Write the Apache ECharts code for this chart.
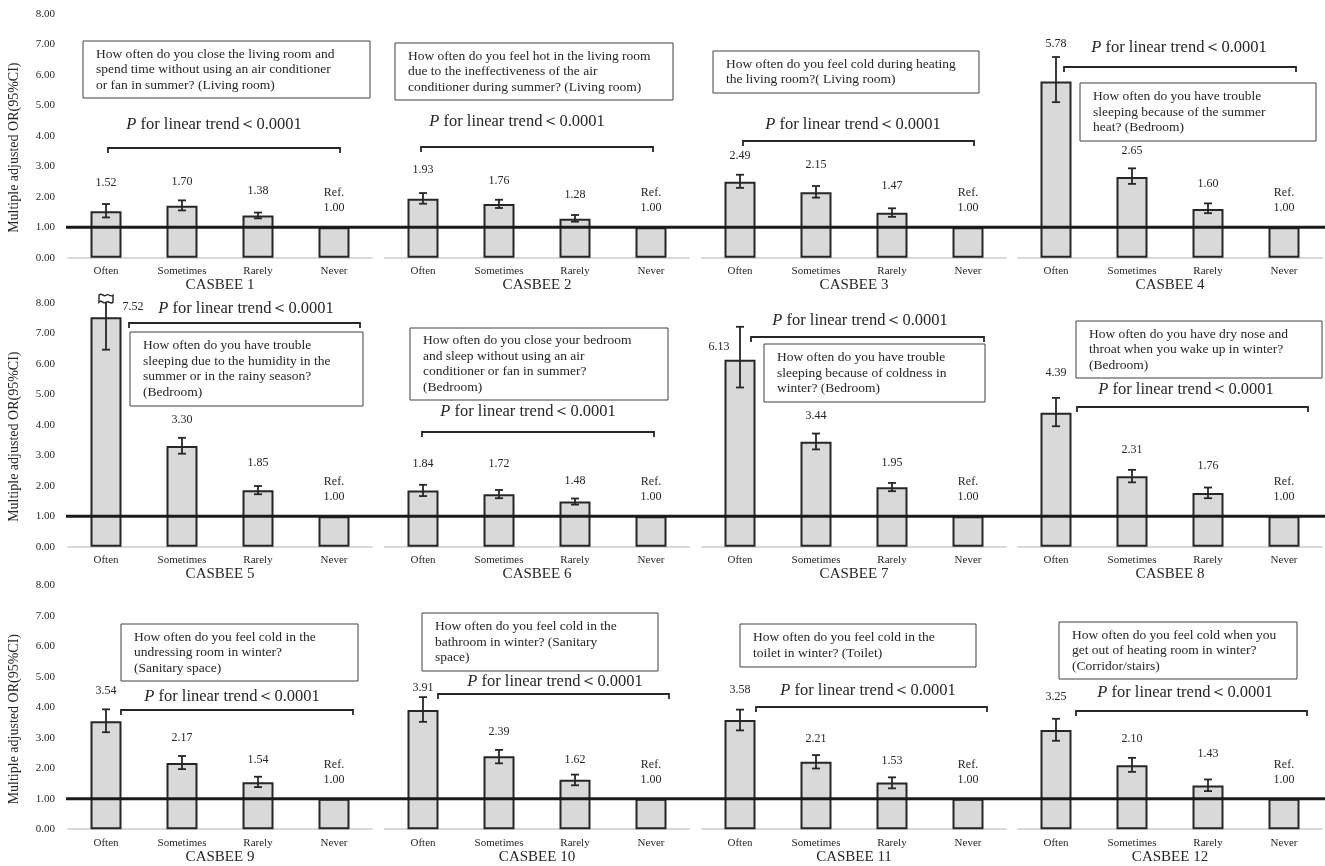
<!DOCTYPE html>
<html>
<head>
<meta charset="utf-8">
<script src="https://cdn.jsdelivr.net/npm/echarts@6/dist/echarts.min.js"></script>
<style>
  html, body { margin: 0; padding: 0; background: #ffffff; }
  #chart { width: 1325px; height: 866px; }
</style>
</head>
<body>
<div id="chart"></div>
<script>
// ---- data ---------------------------------------------------------------
const categories = ['Often', 'Sometimes', 'Rarely', 'Never'];
const panelNames = ['CASBEE 1', 'CASBEE 2', 'CASBEE 3', 'CASBEE 4',
                    'CASBEE 5', 'CASBEE 6', 'CASBEE 7', 'CASBEE 8',
                    'CASBEE 9', 'CASBEE 10', 'CASBEE 11', 'CASBEE 12'];

// adjusted odds ratios (Never = reference)
const orValues = [
  [1.52, 1.70, 1.38, 1.00], [1.93, 1.76, 1.28, 1.00], [2.49, 2.15, 1.47, 1.00], [5.78, 2.65, 1.60, 1.00],
  [7.52, 3.30, 1.85, 1.00], [1.84, 1.72, 1.48, 1.00], [6.13, 3.44, 1.95, 1.00], [4.39, 2.31, 1.76, 1.00],
  [3.54, 2.17, 1.54, 1.00], [3.91, 2.39, 1.62, 1.00], [3.58, 2.21, 1.53, 1.00], [3.25, 2.10, 1.43, 1.00]
];
// 95% CI bounds (no interval for the reference group)
const ciLower = [
  [1.32, 1.55, 1.29, null], [1.77, 1.63, 1.18, null], [2.29, 1.97, 1.34, null], [5.10, 2.42, 1.46, null],
  [6.46, 3.05, 1.72, null], [1.66, 1.59, 1.38, null], [5.22, 3.19, 1.82, null], [3.95, 2.11, 1.59, null],
  [3.18, 1.97, 1.38, null], [3.52, 2.16, 1.44, null], [3.24, 1.99, 1.34, null], [2.90, 1.88, 1.25, null]
];
const ciUpper = [
  [1.76, 1.88, 1.48, null], [2.12, 1.90, 1.40, null], [2.72, 2.35, 1.62, null], [6.58, 2.93, 1.78, null],
  [8.25, 3.57, 1.99, null], [2.03, 1.86, 1.58, null], [7.21, 3.71, 2.09, null], [4.88, 2.52, 1.94, null],
  [3.93, 2.40, 1.72, null], [4.33, 2.60, 1.79, null], [3.92, 2.43, 1.70, null], [3.62, 2.34, 1.63, null]
];
const questions = [
  'How often do you close the living room and\nspend time without using an air conditioner\nor fan in summer? (Living room)',
  'How often do you feel hot in the living room\ndue to the ineffectiveness of the air\nconditioner during summer? (Living room)',
  'How often do you feel cold during heating\nthe living room?( Living room)',
  'How often do you have trouble\nsleeping because of the summer\nheat? (Bedroom)',
  'How often do you have trouble\nsleeping due to the humidity in the\nsummer or in the rainy season?\n(Bedroom)',
  'How often do you close your bedroom\nand sleep without using an air\nconditioner or fan in summer?\n(Bedroom)',
  'How often do you have trouble\nsleeping because of coldness in\nwinter? (Bedroom)',
  'How often do you have dry nose and\nthroat when you wake up in winter?\n(Bedroom)',
  'How often do you feel cold in the\nundressing room in winter?\n(Sanitary space)',
  'How often do you feel cold in the\nbathroom in winter? (Sanitary\nspace)',
  'How often do you feel cold in the\ntoilet in winter? (Toilet)',
  'How often do you feel cold when you\nget out of heating room in winter?\n(Corridor/stairs)'
];
const trendText = 'for linear trend＜0.0001';
const yAxisTitle = 'Multiple adjusted OR(95%CI)';
const refText = 'Ref.';
const Y_MIN = 0, Y_MAX = 8, Y_STEP = 1;

// ---- layout -------------------------------------------------------------
const colLeft = [68, 385, 702, 1018];
const colWidth = 304;
const rowTop = [13.7, 302.7, 585.2];
const rowHeight = 244;
const SERIF = '"Liberation Serif", "Times New Roman", serif';
const INK = '#262626';

// value label offsets from the upper CI end [dx, dy]
const labelDx = [
  [0, 0, 0], [0, 0, 0], [0, 0, 0], [0, 0, 0],
  [27, 0, 0], [0, 0, 0], [-21, 0, 0], [0, 0, 0],
  [0, 0, 0], [0, 0, 0], [0, 0, 0], [0, 0, 0]
];
const labelDy = [
  [-21, -19, -22], [-23, -19, -20], [-19, -21, -22], [-13, -17, -20],
  [12, -18, -23], [-21, -26, -18], [20, -18, -20], [-25, -20, -22],
  [-18, -18, -17], [-9, -18, -15], [-20, -16, -17], [-22, -19, -26]
];
// question boxes [x, y, w, h]
const boxLayout = [
  [83, 41, 287, 57], [395, 43, 278, 57], [713, 51, 266, 42], [1080, 83, 236, 58],
  [130, 332, 233, 74], [410, 328, 258, 72], [764, 344, 221, 58], [1076, 321, 246, 57],
  [121, 624, 237, 57], [422, 613, 236, 58], [740, 624, 236, 43], [1059, 622, 238, 57]
];
// trend annotation: text centre [x, y], bracket [x0, x1, y]
const trendLabelPos = [
  [214, 125], [517, 122], [853, 125], [1179, 48],
  [246, 309], [528, 412], [860, 321], [1186, 390],
  [232, 697], [555, 682], [868, 691], [1185, 693]
];
const bracketPos = [
  [108, 340, 148], [421, 653, 147], [743, 974, 141], [1064, 1296, 67],
  [129, 360, 323], [422, 654, 432], [751, 984, 337], [1077, 1308, 407],
  [121, 353, 710], [438, 669, 694], [756, 987, 707], [1076, 1307, 711]
];

// ---- error bars and value labels ---------------------------------------
function makeRender(p) {
  return function (params, api) {
    const i = params.dataIndex;
    const v = orValues[p][i], lo = ciLower[p][i], hi = ciUpper[p][i];
    const pt = api.coord([i, v]);
    const x = pt[0], yv = pt[1];
    const txt = (s, tx, ty) => ({
      type: 'text',
      style: { text: s, x: tx, y: ty, align: 'center', verticalAlign: 'middle',
               fontSize: 12, fontFamily: SERIF, fill: INK }
    });
    const seg = (x1, y1, x2, y2) => ({
      type: 'line', shape: { x1, y1, x2, y2 },
      style: { stroke: INK, lineWidth: 1.8 }
    });
    const children = [];
    if (lo == null) {
      children.push(txt(refText, x, yv - 34), txt(v.toFixed(2), x, yv - 19));
    } else {
      const yHi = api.coord([i, hi])[1];
      const yLo = api.coord([i, lo])[1];
      children.push(seg(x, yHi, x, yLo));
      children.push(seg(x - 4, yLo, x + 4, yLo));
      if (hi > Y_MAX) {
        // interval runs past the axis top: break flag instead of a cap
        children.push({
          type: 'path',
          shape: {
            pathData: 'M0,2 C3,-1 4,4 7,2 C10,0 11,4 14,2 L14,8 C11,10 10,6 7,8 C4,10 3,5 0,8 Z',
            x: x - 7, y: yHi - 1, width: 14, height: 9, layout: 'cover'
          },
          style: { fill: '#ffffff', stroke: INK, lineWidth: 1.4 }
        });
      } else {
        children.push(seg(x - 4, yHi, x + 4, yHi));
      }
      children.push(txt(v.toFixed(2), x + labelDx[p][i], yHi + labelDy[p][i]));
    }
    return { type: 'group', children };
  };
}

// ---- build option -------------------------------------------------------
const grids = [], xAxes = [], yAxes = [], series = [];
for (let p = 0; p < 12; p++) {
  const r = Math.floor(p / 4), c = p % 4;
  grids.push({ left: colLeft[c], top: rowTop[r], width: colWidth, height: rowHeight });
  xAxes.push({
    type: 'category', gridIndex: p, data: categories,
    axisLine: { lineStyle: { color: '#d9d9d9', width: 2 } },
    axisTick: { show: false },
    axisLabel: { fontSize: 11, fontFamily: SERIF, color: INK, margin: 8 },
    name: panelNames[p], nameLocation: 'middle', nameGap: 20,
    nameTextStyle: { fontSize: 15, fontFamily: SERIF, color: INK }
  });
  yAxes.push({
    type: 'value', gridIndex: p, min: Y_MIN, max: Y_MAX, interval: Y_STEP,
    splitLine: { show: false }, axisLine: { show: false }, axisTick: { show: false },
    axisLabel: { show: c === 0, formatter: v => v.toFixed(2), fontSize: 11,
                 fontFamily: SERIF, color: INK, margin: 13 },
    name: c === 0 ? yAxisTitle : '', nameLocation: 'middle', nameGap: 47,
    nameTextStyle: { fontSize: 14, fontFamily: SERIF, color: INK, padding: [0, 24, 0, 0] }
  });
  series.push({
    type: 'bar', xAxisIndex: p, yAxisIndex: p, data: orValues[p], barWidth: 31,
    itemStyle: { color: '#d9d9d9', borderColor: INK, borderWidth: 2 }, z: 2
  });
  series.push({
    type: 'custom', xAxisIndex: p, yAxisIndex: p, clip: false, z: 4,
    data: categories.map((_, i) => [i, orValues[p][i]]),
    renderItem: makeRender(p)
  });
}

const chart = echarts.init(document.getElementById('chart'));
chart.setOption({
  animation: false,
  backgroundColor: '#ffffff',
  grid: grids, xAxis: xAxes, yAxis: yAxes, series
});

// ---- annotations: reference line, question boxes, trend brackets -------
const graphics = [];
for (let r = 0; r < 3; r++) {
  const yRef = chart.convertToPixel({ yAxisIndex: r * 4 }, 1);
  graphics.push({
    type: 'line', z: 10,
    shape: { x1: colLeft[0] - 2, y1: yRef, x2: 1325, y2: yRef },
    style: { stroke: '#1a1a1a', lineWidth: 3 }
  });
}
for (let p = 0; p < 12; p++) {
  const [bx, by, bw, bh] = boxLayout[p];
  graphics.push({
    type: 'rect', z: 11, shape: { x: bx, y: by, width: bw, height: bh },
    style: { fill: '#ffffff', stroke: '#404040', lineWidth: 1 }
  });
  graphics.push({
    type: 'text', z: 12,
    style: { text: questions[p], x: bx + 13, y: by + bh / 2, align: 'left', verticalAlign: 'middle',
             fontSize: 13.5, lineHeight: 15.5, fontFamily: SERIF, fill: INK }
  });
  const [tx, ty] = trendLabelPos[p];
  graphics.push({
    type: 'text', z: 12,
    style: {
      text: '{i|P} {n|' + trendText + '}', x: tx, y: ty, align: 'center', verticalAlign: 'middle',
      fontSize: 16.5, fontFamily: SERIF, fill: INK,
      rich: {
        i: { fontSize: 16.5, fontFamily: SERIF, fontStyle: 'italic', fill: INK },
        n: { fontSize: 16.5, fontFamily: SERIF, fill: INK }
      }
    }
  });
  const [x0, x1, yb] = bracketPos[p];
  graphics.push({
    type: 'polyline', z: 12,
    shape: { points: [[x0, yb + 5], [x0, yb], [x1, yb], [x1, yb + 5]] },
    style: { stroke: INK, lineWidth: 1.8, fill: null }
  });
}
chart.setOption({ graphic: graphics });
</script>
</body>
</html>
